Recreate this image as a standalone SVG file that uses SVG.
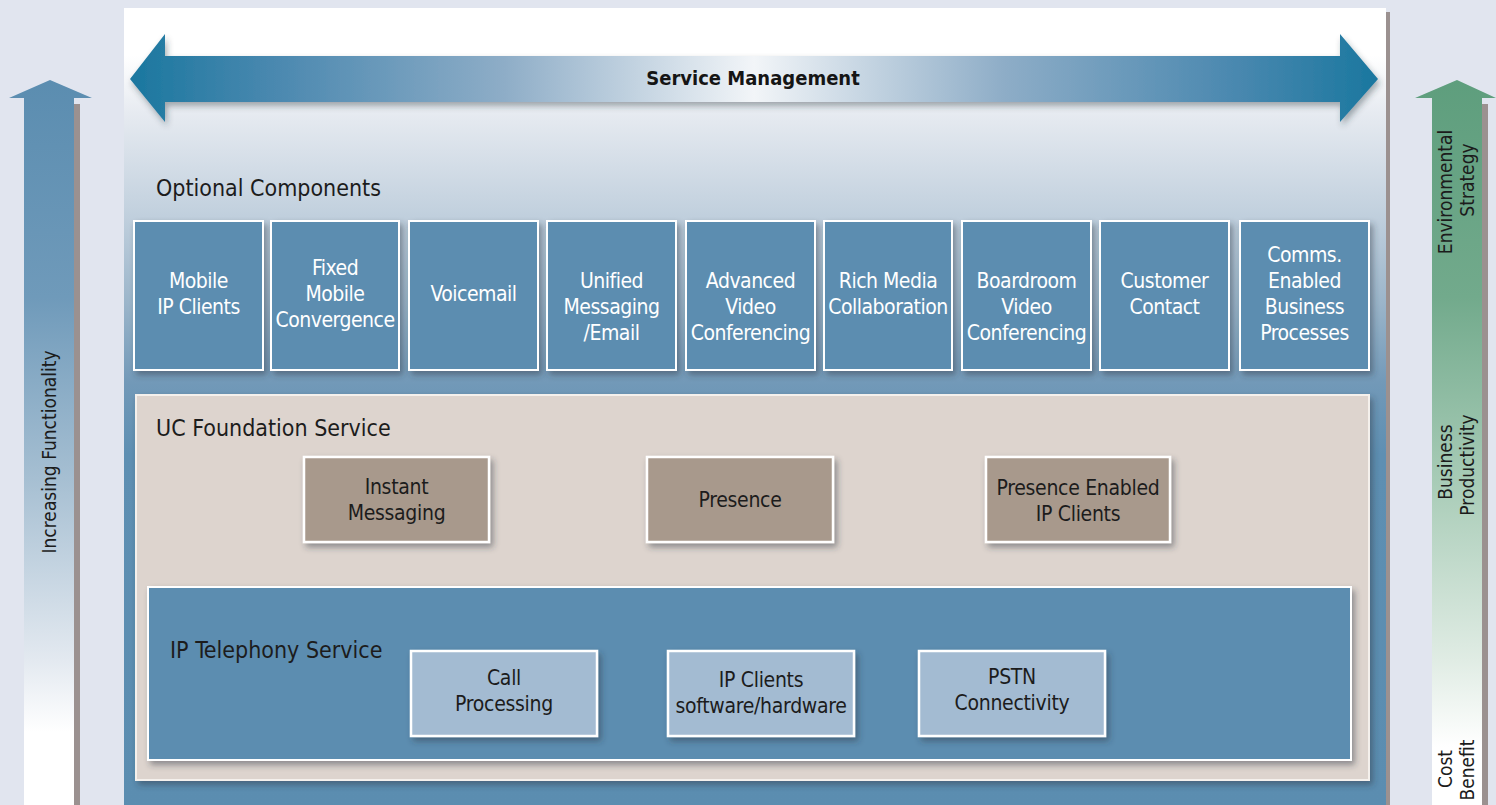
<svg xmlns="http://www.w3.org/2000/svg" width="1496" height="805" viewBox="0 0 1496 805">
<style>
  text { font-family: "Liberation Sans Narrow", "DejaVu Sans Condensed", "Liberation Sans", sans-serif; }
  .opt rect { fill: #5b8db0; stroke: #ffffff; stroke-width: 2; filter: url(#sh); }
  .opt text { fill: #ffffff; font-size: 21px; text-anchor: middle; letter-spacing: -0.5px; }
  .fnd rect { fill: #a8998c; stroke: #ffffff; stroke-width: 2.5; filter: url(#sh); }
  .fnd text { fill: #1c1c1c; font-size: 21px; text-anchor: middle; letter-spacing: -0.3px; }
  .ipt rect { fill: #a3bbd2; stroke: #ffffff; stroke-width: 2.5; filter: url(#sh); }
  .ipt text { fill: #1c1c1c; font-size: 21px; text-anchor: middle; letter-spacing: -0.3px; }
  .title { fill: #1c1c1c; font-size: 23px; }
  .side { fill: #1c1c1c; font-size: 19px; text-anchor: middle; }
</style>
<defs>
  <filter id="sh" x="-10%" y="-10%" width="130%" height="140%">
    <feDropShadow dx="3" dy="4" stdDeviation="3" flood-color="#2a3440" flood-opacity="0.45"/>
  </filter>
  <filter id="sh2" x="-5%" y="-30%" width="110%" height="170%">
    <feDropShadow dx="2" dy="4" stdDeviation="3" flood-color="#2a3440" flood-opacity="0.4"/>
  </filter>
  <linearGradient id="panelG" x1="0" y1="8" x2="0" y2="805" gradientUnits="userSpaceOnUse">
    <stop offset="0" stop-color="#ffffff"/>
    <stop offset="0.06" stop-color="#ffffff"/>
    <stop offset="0.13" stop-color="#e7ebf1"/>
    <stop offset="0.25" stop-color="#c4d2df"/>
    <stop offset="0.37" stop-color="#9bb5ca"/>
    <stop offset="0.47" stop-color="#7299b8"/>
    <stop offset="0.56" stop-color="#5e8fb2"/>
    <stop offset="1" stop-color="#5b8db0"/>
  </linearGradient>
  <linearGradient id="smG" x1="130" y1="0" x2="1378" y2="0" gradientUnits="userSpaceOnUse">
    <stop offset="0" stop-color="#1a779f"/>
    <stop offset="0.12" stop-color="#4c89b0"/>
    <stop offset="0.3" stop-color="#8eadc7"/>
    <stop offset="0.5" stop-color="#f2f5f8"/>
    <stop offset="0.7" stop-color="#8eadc7"/>
    <stop offset="0.88" stop-color="#4c89b0"/>
    <stop offset="1" stop-color="#1a779f"/>
  </linearGradient>
  <linearGradient id="leftG" x1="0" y1="80" x2="0" y2="805" gradientUnits="userSpaceOnUse">
    <stop offset="0" stop-color="#5b8db0"/>
    <stop offset="0.3" stop-color="#6f9aba"/>
    <stop offset="0.55" stop-color="#a6bfd2"/>
    <stop offset="0.8" stop-color="#e3e9f0"/>
    <stop offset="0.9" stop-color="#ffffff"/>
    <stop offset="1" stop-color="#ffffff"/>
  </linearGradient>
  <linearGradient id="rightG" x1="0" y1="80" x2="0" y2="805" gradientUnits="userSpaceOnUse">
    <stop offset="0" stop-color="#5e9e7d"/>
    <stop offset="0.3" stop-color="#72aa8c"/>
    <stop offset="0.55" stop-color="#a7cbb6"/>
    <stop offset="0.8" stop-color="#e0ece4"/>
    <stop offset="0.92" stop-color="#ffffff"/>
    <stop offset="1" stop-color="#ffffff"/>
  </linearGradient>
</defs>

<rect x="0" y="0" width="1496" height="805" fill="#e1e5ef"/>

<g id="main-panel">
  <rect x="1384" y="12" width="6" height="793" fill="#9b9190"/>
  <rect x="124" y="8" width="1262" height="797" fill="url(#panelG)"/>
</g>

<g id="service-management">
  <polygon points="130,79 165,34 165,56 1340,56 1340,34 1378,79 1340,122 1340,102 165,102 165,122" fill="url(#smG)" filter="url(#sh2)"/>
  <text x="753" y="85" text-anchor="middle" font-size="20" font-weight="bold" fill="#151515">Service Management</text>
</g>

<g id="increasing-functionality">
  <polygon points="74,104 80,104 80,805 74,805" fill="#9b9190"/>
  <polygon points="50,80 92,98 74,98 74,805 24,805 24,98 9,98" fill="url(#leftG)"/>
  <text class="side" transform="translate(56,452) rotate(-90)">Increasing Functionality</text>
</g>

<g id="value-arrow">
  <polygon points="1482,104 1488,104 1488,805 1482,805" fill="#9b9190"/>
  <polygon points="1457,80 1496,98 1482,98 1482,805 1432,805 1432,98 1415,98" fill="url(#rightG)"/>
  <text class="side" transform="translate(1452,192) rotate(-90)">Environmental</text>
  <text class="side" transform="translate(1474,180) rotate(-90)">Strategy</text>
  <text class="side" transform="translate(1452,462) rotate(-90)">Business</text>
  <text class="side" transform="translate(1474,465) rotate(-90)">Productivity</text>
  <text class="side" transform="translate(1452,769) rotate(-90)">Cost</text>
  <text class="side" transform="translate(1474,770) rotate(-90)">Benefit</text>
</g>

<text class="title" x="156" y="196">Optional Components</text>

<g id="opt-mobile-ip-clients" class="opt">
  <rect x="134" y="221" width="129" height="149"/>
  <text x="198.5" y="288">Mobile</text>
  <text x="198.5" y="314">IP Clients</text>
</g>
<g id="opt-fmc" class="opt">
  <rect x="271" y="221" width="128" height="149"/>
  <text x="335" y="275">Fixed</text>
  <text x="335" y="301">Mobile</text>
  <text x="335" y="327">Convergence</text>
</g>
<g id="opt-voicemail" class="opt">
  <rect x="409" y="221" width="129" height="149"/>
  <text x="473.5" y="301">Voicemail</text>
</g>
<g id="opt-unified-messaging" class="opt">
  <rect x="547" y="221" width="129" height="149"/>
  <text x="611.5" y="288">Unified</text>
  <text x="611.5" y="314">Messaging</text>
  <text x="611.5" y="340">/Email</text>
</g>
<g id="opt-advanced-video" class="opt">
  <rect x="686" y="221" width="129" height="149"/>
  <text x="750.5" y="288">Advanced</text>
  <text x="750.5" y="314">Video</text>
  <text x="750.5" y="340">Conferencing</text>
</g>
<g id="opt-rich-media" class="opt">
  <rect x="824" y="221" width="128" height="149"/>
  <text x="888" y="288">Rich Media</text>
  <text x="888" y="314">Collaboration</text>
</g>
<g id="opt-boardroom-video" class="opt">
  <rect x="962" y="221" width="129" height="149"/>
  <text x="1026.5" y="288">Boardroom</text>
  <text x="1026.5" y="314">Video</text>
  <text x="1026.5" y="340">Conferencing</text>
</g>
<g id="opt-customer-contact" class="opt">
  <rect x="1100" y="221" width="129" height="149"/>
  <text x="1164.5" y="288">Customer</text>
  <text x="1164.5" y="314">Contact</text>
</g>
<g id="opt-cebp" class="opt">
  <rect x="1240" y="221" width="129" height="149"/>
  <text x="1304.5" y="262">Comms.</text>
  <text x="1304.5" y="288">Enabled</text>
  <text x="1304.5" y="314">Business</text>
  <text x="1304.5" y="340">Processes</text>
</g>

<g id="uc-foundation">
  <rect x="136" y="395" width="1233" height="385" fill="#ddd4ce" stroke="#f4f0ec" stroke-width="2" filter="url(#sh)"/>
  <text class="title" x="156" y="436">UC Foundation Service</text>
</g>

<g id="fnd-instant-messaging" class="fnd">
  <rect x="304" y="457" width="185" height="85"/>
  <text x="396.5" y="494">Instant</text>
  <text x="396.5" y="520">Messaging</text>
</g>
<g id="fnd-presence" class="fnd">
  <rect x="647" y="457" width="186" height="85"/>
  <text x="740" y="507">Presence</text>
</g>
<g id="fnd-presence-enabled" class="fnd">
  <rect x="986" y="457" width="184" height="85"/>
  <text x="1078" y="495">Presence Enabled</text>
  <text x="1078" y="521">IP Clients</text>
</g>

<g id="ip-telephony">
  <rect x="148" y="587" width="1203" height="173" fill="#5b8db0" stroke="#ffffff" stroke-width="2" filter="url(#sh)"/>
  <text class="title" x="170" y="658">IP Telephony Service</text>
</g>

<g id="ipt-call-processing" class="ipt">
  <rect x="411" y="651" width="186" height="85"/>
  <text x="504" y="685">Call</text>
  <text x="504" y="711">Processing</text>
</g>
<g id="ipt-ip-clients" class="ipt">
  <rect x="668" y="651" width="186" height="85"/>
  <text x="761" y="687">IP Clients</text>
  <text x="761" y="713">software/hardware</text>
</g>
<g id="ipt-pstn" class="ipt">
  <rect x="919" y="651" width="186" height="85"/>
  <text x="1012" y="684">PSTN</text>
  <text x="1012" y="710">Connectivity</text>
</g>

<g id="connectors"></g>
</svg>
